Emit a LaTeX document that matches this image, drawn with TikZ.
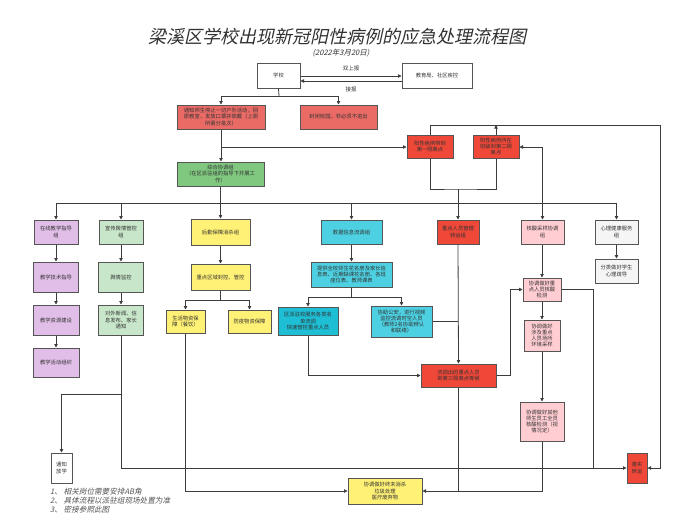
\documentclass[tikz,border=0pt]{standalone}
\usepackage{fontspec}
\setmainfont{Noto Sans CJK SC}
\newfontfamily\slantcjk[FakeSlant=0.22]{Noto Sans CJK SC}
\usetikzlibrary{arrows.meta}
\definecolor{salmon}{RGB}{234,107,102}
\definecolor{bred}{RGB}{240,72,56}
\definecolor{gbox}{RGB}{128,200,128}
\definecolor{lav}{RGB}{225,190,231}
\definecolor{mint}{RGB}{200,230,201}
\definecolor{ybox}{RGB}{255,241,118}
\definecolor{cbox}{RGB}{77,208,225}
\definecolor{cboxd}{RGB}{30,190,212}
\definecolor{pbox}{RGB}{255,205,210}
\definecolor{gybox}{RGB}{245,245,245}
\definecolor{bord}{RGB}{85,85,85}
\definecolor{lnc}{RGB}{60,60,60}
\definecolor{txt}{RGB}{50,50,50}
\tikzset{
  box/.style={draw=bord, line width=1pt, inner sep=0.5pt, align=center, text=txt,
    font=\fontsize{5.3}{6.3}\selectfont},
  wire/.style={draw=lnc, line width=0.8pt},
  arr/.style={wire, -{Triangle[length=3.5pt,width=3.5pt]}},
  lbl/.style={font=\fontsize{5.5}{6.5}\selectfont, text=txt, inner sep=0pt}
}
\newcommand{\bx}[8]{\node[box, fill=#7, minimum width=#3pt, minimum height=#4pt] (#1) at (#5,#6) {#8};}
\begin{document}
\begin{tikzpicture}[x=1pt,y=-1pt]
\fill[white] (0,0) rectangle (700,525);
\useasboundingbox (0,0) rectangle (700,525);
% title
\node[font=\slantcjk\fontsize{18}{20}\selectfont, text=txt, inner sep=0] (title) at (337,37) {梁溪区学校出现新冠阳性病例的应急处理流程图};
\node[font=\slantcjk\fontsize{7.5}{9}\selectfont, text=txt, inner sep=0] (date) at (341,53) {(2022年3月20日)};
% boxes
\bx{school}{}{43}{25}{278.5}{75.5}{white}{学校}
\bx{edu}{}{70}{25}{437}{75.5}{white}{教育局、社区疾控}
\bx{notify}{}{88}{24}{221}{117}{salmon}{通知师生停止一切户外活动，回\\原教室，发放口罩并佩戴（上厕\\所需分批次）}
\bx{close}{}{77}{24}{338.5}{117}{salmon}{封闭校园，非必须不进出}
\bx{iso1}{}{46}{23}{430}{146.5}{bred}{阳性病例带到\\第一隔离点}
\bx{iso2}{}{46}{23}{496}{146.5}{bred}{阳性病例所在\\班级到第二隔\\离点}
\bx{coord}{}{87}{24}{220.5}{174}{gbox}{综合协调组\\（在区派驻组的指导下开展工\\作）}
\bx{online}{}{44}{24}{56}{232}{lav}{在线教学指导\\组}
\bx{tech}{}{45}{30}{56}{277}{lav}{教学技术指导}
\bx{resource}{}{46}{30}{56}{320}{lav}{教学资源建设}
\bx{activity}{}{46}{29}{56}{362.5}{lav}{教学活动组织}
\bx{publicity}{}{44}{24}{121}{232}{mint}{宣传舆情管控\\组}
\bx{monitor}{}{45}{30}{121}{277}{mint}{舆情监控}
\bx{news}{}{45}{30}{121}{320}{mint}{对外新闻、信\\息发布、家长\\通知}
\bx{logistics}{}{59}{26}{220.5}{232}{ybox}{后勤保障消杀组}
\bx{area}{}{59}{26}{220.5}{277}{ybox}{重点区域封控、管控}
\bx{living}{}{39}{23}{185.5}{321.5}{ybox}{生活物资保\\障（餐饮）}
\bx{epidemic}{}{43}{23}{249.5}{321.5}{ybox}{防疫物资保障}
\bx{data}{}{61}{24}{351.5}{232}{cbox}{数据信息流调组}
\bx{roster}{}{81}{25}{351.5}{274.5}{cbox}{提供全校师生花名册及家长信\\息表、近期缺课花名册、各班\\座位表、教师课表}
\bx{district}{}{60}{28}{308}{321}{cboxd}{区派驻校服务各类名\\单流调\\快速管控重点人员}
\bx{police}{}{61}{31}{401.5}{321.5}{cbox}{协助公安，进行视频\\监控流调时空人员\\（教师2名协助辨认\\和联络）}
\bx{keyppl}{}{42}{24}{458}{232}{bred}{重点人员管理\\转运组}
\bx{trace}{}{75}{23}{458.5}{375.5}{bred}{流调出的重点人员\\到第三隔离点等候}
\bx{nasal}{}{43}{24}{542.5}{232}{pbox}{核酸采样协调\\组}
\bx{test}{}{38}{23}{542}{289.5}{pbox}{协调做好重\\点人员核酸\\检测}
\bx{env}{}{36}{31}{542}{335.5}{pbox}{协调做好\\涉及重点\\人员场所\\环境采样}
\bx{alltest}{}{44}{39}{542}{421.5}{pbox}{协调做好其他\\师生员工全员\\核酸检测（视\\情况定）}
\bx{psych}{}{43}{24}{616.5}{232}{gybox}{心理健康服务\\组}
\bx{psych2}{}{43}{24}{616.5}{271}{gybox}{分类做好学生\\心理疏导}
\bx{transfer}{}{20}{30}{637}{468}{bred}{落实\\转运}
\bx{disinfect}{}{74}{26}{385}{491}{ybox}{协调做好终末消杀\\垃圾处理\\医疗废弃物}
\bx{dismiss}{}{21}{30}{61.5}{468}{white}{通知\\放学}
% notes
\node[font=\slantcjk\fontsize{7.6}{9}\selectfont, text=bord, align=left, anchor=north west, inner sep=0] (notes) at (50,488) {1、 相关岗位需要安排AB角\\2、 具体流程以派驻组现场处置为准\\3、 密接参照此图};
% connectors top
\draw[arr] (school.east |- 0,76) -- (edu.west |- 0,76) node[midway, lbl, above=5pt] (l1) {双上报};
\draw[arr] (edu.west |- 0,81) -- (school.east |- 0,81) node[midway, lbl, below=5pt] (l2) {接报};
\coordinate (j1) at (279,96);
\draw[wire] (school.south) -- (j1);
\draw[arr] (j1) -| (notify.north);
\draw[arr] (j1) -| (close.north);
\draw[arr] (notify.south) -- (notify.south |- coord.north);
\draw[arr] (notify.south |- 0,147) -- (iso1.west |- 0,147);
\coordinate (rt) at (660,125);
\draw[arr] (iso1.north) |- (rt) |- (transfer.east);
\draw[arr] (iso2.north) -- (iso2.north |- rt);
\coordinate (jb) at (458,189);
\draw[wire] (iso1.south) |- (jb) -| (iso2.south);
\draw[arr] (jb) -- (keyppl.north);
\coordinate (ja) at (542.5,147);
\draw[arr] (ja) -- (iso2.east |- ja);
\draw[arr] (ja) -- (nasal.north);
% bus
\coordinate (b1) at (56,203);
\coordinate (b2) at (616.5,203);
\draw[wire] (b1) -- (b2);
\draw[arr] (coord.south) -- (logistics.north);
\draw[arr] (b1) -- (online.north);
\draw[arr] (publicity.north |- b1) -- (publicity.north);
\draw[arr] (data.north |- b1) -- (data.north);
\draw[arr] (b2) -- (psych.north);
% left columns
\draw[arr] (online.south) -- (tech.north);
\draw[arr] (tech.south) -- (resource.north);
\draw[arr] (resource.south) -- (activity.north);
\draw[arr] (publicity.south) -- (monitor.north);
\draw[arr] (monitor.south) -- (news.north);
\draw[arr] (news.south) |- (transfer.west);
\coordinate (nb) at (121,394);
\draw[arr] (nb) -| (dismiss.north);
% logistics
\draw[arr] (logistics.south) -- (area.north);
\coordinate (ab) at (220.5,300);
\draw[wire] (area.south) -- (ab);
\draw[arr] (ab) -| (living.north);
\draw[arr] (ab) -| (epidemic.north);
\draw[arr] (living.south) |- (disinfect.west);
% data
\draw[arr] (data.south) -- (roster.north);
\coordinate (rb) at (351.5,297);
\draw[wire] (roster.south) -- (rb);
\draw[arr] (rb) -| (district.north);
\draw[arr] (rb) -| (police.north);
\draw[arr] (district.south) |- (trace.west);
\draw[wire] (police.east) -- (police.east -| keyppl.south);
\draw[arr] (keyppl.south) -- (trace.north);
\coordinate (tj) at (510,375.5);
\draw[arr] (trace.east) -- (tj) |- (test.west);
\draw[wire] (trace.south) -- (trace.south |- disinfect.east);
% nucleic
\draw[arr] (test.north |- nasal.south) -- (test.north);
\draw[arr] (test.south) -- (env.north);
\draw[arr] (env.south) -- (alltest.north);
\draw[arr] (alltest.south) |- (disinfect.east);
\coordinate (tk) at (593,468);
\draw[wire] (test.east) -| (tk);
% psych
\draw[arr] (psych.south) -- (psych2.north);
\end{tikzpicture}
\end{document}
